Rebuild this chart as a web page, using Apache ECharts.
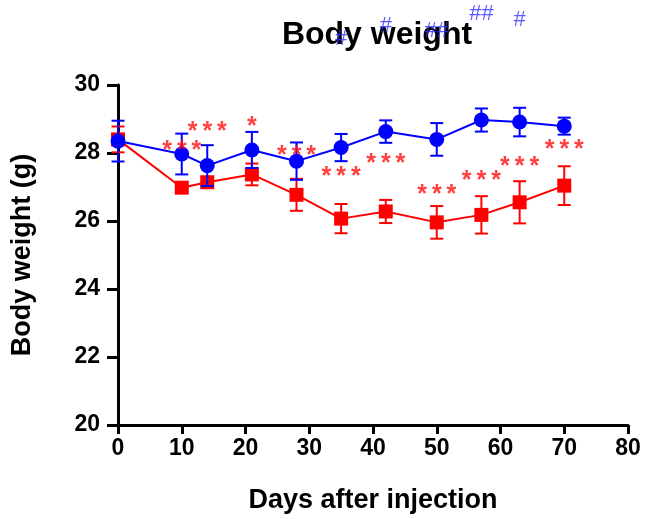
<!DOCTYPE html>
<html>
<head>
<meta charset="utf-8">
<script src="https://cdn.jsdelivr.net/npm/echarts@6/dist/echarts.min.js"></script>
<style>html,body{margin:0;padding:0;background:#fff}#c{width:655px;height:519px}</style>
</head>
<body>
<div id="c"></div>
<script>
var days = [0, 10, 14, 21, 28, 35, 42, 50, 57, 63, 70];
var blueMean = [28.35, 27.97, 27.63, 28.09, 27.76, 28.16, 28.63, 28.40, 28.97, 28.91, 28.79];
var blueErr  = [0.60, 0.60, 0.60, 0.53, 0.55, 0.40, 0.33, 0.48, 0.34, 0.42, 0.25];
var redMean  = [28.40, 26.98, 27.14, 27.37, 26.77, 26.07, 26.28, 25.96, 26.18, 26.55, 27.04];
var redErr   = [0.38, 0.10, 0.15, 0.32, 0.47, 0.43, 0.34, 0.48, 0.55, 0.62, 0.57];
var starDays = [10, 14, 21, 28, 35, 42, 50, 57, 63, 70];
var starText = ['***', '***', '*', '***', '***', '***', '***', '***', '***', '***'];
var starY    = [28.18, 28.74, 28.87, 28.03, 27.41, 27.79, 26.89, 27.30, 27.71, 28.21];
var hashDays = [35, 42, 50, 57, 63];
var hashText = ['#', '#', '##', '##', '#'];
var hashY    = [31.38, 31.76, 31.62, 32.12, 31.94];
var xTicks = [0, 10, 20, 30, 40, 50, 60, 70, 80];
var yTicks = [20, 22, 24, 26, 28, 30];

var FONT = '"Liberation Sans", Arial, sans-serif';
function pairs(xs, ys) { return xs.map(function (x, i) { return [x, ys[i]]; }); }
function errData(mean, err) { return days.map(function (d, i) { return [d, mean[i] - err[i], mean[i] + err[i]]; }); }
function errSeries(mean, err, color, z) {
  return {
    type: 'custom', z: z, silent: true,
    data: errData(mean, err),
    renderItem: function (params, api) {
      var x = api.value(0);
      var lo = api.coord([x, api.value(1)]);
      var hi = api.coord([x, api.value(2)]);
      var w = 6.5;
      var st = { stroke: color, lineWidth: 2 };
      return { type: 'group', children: [
        { type: 'line', shape: { x1: lo[0], y1: lo[1], x2: hi[0], y2: hi[1] }, style: st },
        { type: 'line', shape: { x1: lo[0] - w, y1: lo[1], x2: lo[0] + w, y2: lo[1] }, style: st },
        { type: 'line', shape: { x1: hi[0] - w, y1: hi[1], x2: hi[0] + w, y2: hi[1] }, style: st }
      ]};
    }
  };
}
function textSeries(xs, ys, texts, color, size, z, sep, dy, weight) {
  return {
    type: 'scatter', z: z, silent: true, clip: false, symbolSize: 0,
    data: xs.map(function (x, i) { return { value: [x, ys[i]], name: texts[i] }; }),
    label: {
      show: true, position: 'inside', offset: [0, dy],
      formatter: function (p) { return p.name.split('').join(sep); },
      color: color, fontSize: size, fontFamily: FONT, fontWeight: weight
    }
  };
}

var chart = echarts.init(document.getElementById('c'));
chart.setOption({
  animation: false,
  backgroundColor: '#fff',
  title: {
    text: 'Body weight', left: 372, textAlign: 'center', top: 14, z: 6,
    textStyle: { fontFamily: FONT, fontWeight: 'bold', fontSize: 32, color: '#000' }
  },
  grid: { left: 118, right: 27, top: 85, bottom: 94, containLabel: false },
  xAxis: {
    type: 'value', min: 0, max: 80, interval: 10,
    name: 'Days after injection', nameLocation: 'middle', nameGap: 62,
    nameTextStyle: { fontFamily: FONT, fontWeight: 'bold', fontSize: 27, color: '#000' },
    axisLine: { lineStyle: { color: '#000', width: 3 } },
    axisTick: { length: 9, lineStyle: { color: '#000', width: 3 } },
    axisLabel: { margin: 12, fontFamily: FONT, fontWeight: 'bold', fontSize: 23, color: '#000',
      customValues: xTicks },
    splitLine: { show: false }
  },
  yAxis: {
    type: 'value', min: 20, max: 30, interval: 2,
    name: 'Body weight (g)', nameLocation: 'middle', nameGap: 82,
    nameTextStyle: { fontFamily: FONT, fontWeight: 'bold', fontSize: 27, color: '#000' },
    axisLine: { show: true, onZero: false, lineStyle: { color: '#000', width: 3 } },
    axisTick: { show: true, length: 11, lineStyle: { color: '#000', width: 3 } },
    axisLabel: { margin: 18, fontFamily: FONT, fontWeight: 'bold', fontSize: 23, color: '#000',
      customValues: yTicks },
    splitLine: { show: false }
  },
  series: [
    errSeries(redMean, redErr, '#ff0000', 2),
    {
      type: 'line', z: 3, data: pairs(days, redMean), symbol: 'rect', symbolSize: 14,
      itemStyle: { color: '#ff0000' }, lineStyle: { color: '#ff0000', width: 2 }
    },
    errSeries(blueMean, blueErr, '#0000ff', 4),
    {
      type: 'line', z: 5, data: pairs(days, blueMean), symbol: 'circle', symbolSize: 15,
      itemStyle: { color: '#0000ff' }, lineStyle: { color: '#0000ff', width: 2 }
    },
    textSeries(starDays, starY, starText, '#ff1010', 25, 8, '\u2009', 4, 'bold'),
    textSeries(hashDays, hashY, hashText, '#3030ff', 22, 10, '', 1, 'normal')
  ]
});
</script>
</body>
</html>
